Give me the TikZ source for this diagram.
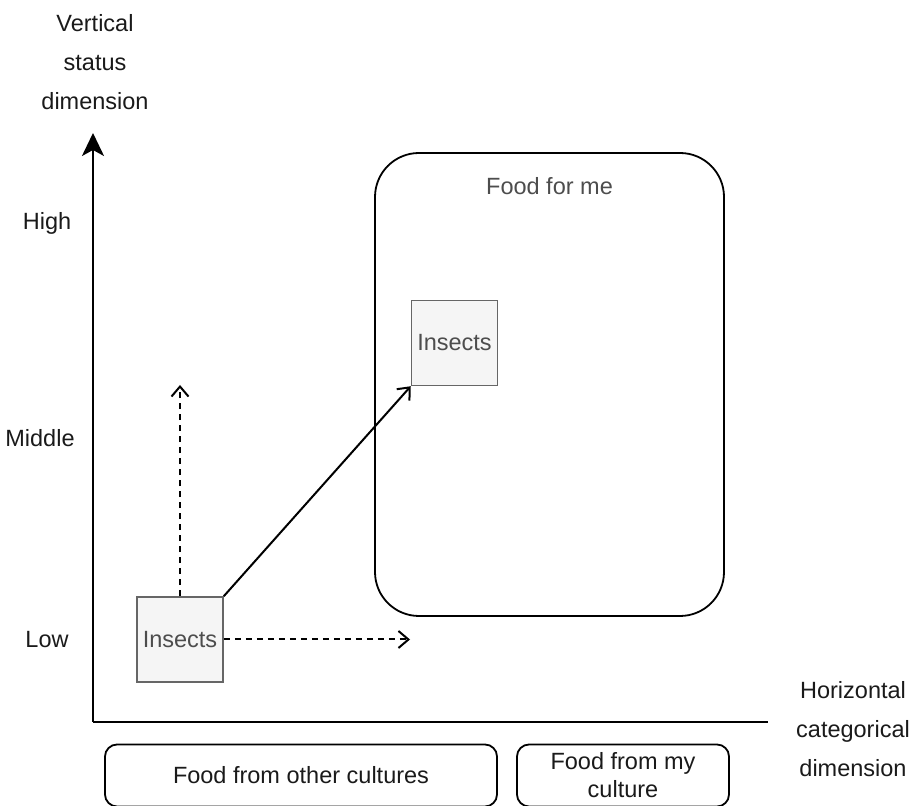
\documentclass[tikz,border=0pt]{standalone}
\usepackage{fontspec}
\setmainfont{Liberation Sans}
\usetikzlibrary{arrows.meta,positioning}
\definecolor{axistext}{HTML}{1A1A1A}
\definecolor{boxtext}{HTML}{4D4D4D}
\definecolor{insectfill}{HTML}{F5F5F5}
\definecolor{insectline}{HTML}{666666}

\begin{document}
\begin{tikzpicture}[x=1pt,y=1pt,
    every node/.style={font=\fontsize{23.5}{39}\selectfont},
    axis/.style={black,line width=2pt},
    axislabel/.style={text=axistext,align=center},
    insectbox/.style={draw=insectline,fill=insectfill,line width=1.5pt,minimum width=86pt,minimum height=85pt,inner sep=0pt,text=boxtext},
    catbox/.style={draw=black,line width=1.8pt,rounded corners=12pt,minimum height=62pt,inner sep=0pt,text=axistext,align=center},
    move/.style={-{Straight Barb[length=10pt,width=17pt,line width=2pt]},line width=2pt}]
  \useasboundingbox (0,0) rectangle (917,805);
    % axes
    \coordinate (origin) at (93,83);
    \coordinate (vtop) at (93,672);
    \coordinate (hend) at (768,83);
    \draw[axis,-{Stealth[length=23pt,width=22pt,inset=6pt]}] (origin) -- (vtop);
    \draw[axis] (origin) -- (hend);
    \node[axislabel] (vlabel) at (95,743) {Vertical\\status\\dimension};
    \node[axislabel] (hlabel) at (853,76) {Horizontal\\categorical\\dimension};
    \node[axislabel] (high) at (47,582) {High};
    \node[axislabel] (middle) at (40,367) {Middle};
    \node[axislabel] (low) at (47,165) {Low};
    % region and boxes
    \node[draw=black,line width=1.8pt,rounded corners=44pt,minimum width=349pt,minimum height=463pt] (forme) at (549.5,420.5) {};
    \node[text=boxtext,below=22pt of forme.north] (formetext) {Food for me};
    \node[insectbox] (insecthigh) at (454.5,462) {Insects};
    \node[insectbox] (insectlow) at (180,165.5) {Insects};
    \node[catbox,minimum width=392pt] (othercult) at (301,29.5) {Food from other cultures};
    \node[catbox,minimum width=212pt,font=\fontsize{23.5}{28}\selectfont] (mycult) at (623,29.5) {Food from my\\culture};
  %    moves of the insects
    \coordinate (upend) at (180,420);
    \coordinate (rightend) at (410,165.5);
    \draw[move,dash pattern=on 6pt off 5pt] (insectlow.north) -- (upend);
    \draw[move,dash pattern=on 6pt off 5pt] (insectlow.east) -- (rightend);
    \draw[move] (insectlow.north east) -- (insecthigh.south west);
\end{tikzpicture}
\end{document}
